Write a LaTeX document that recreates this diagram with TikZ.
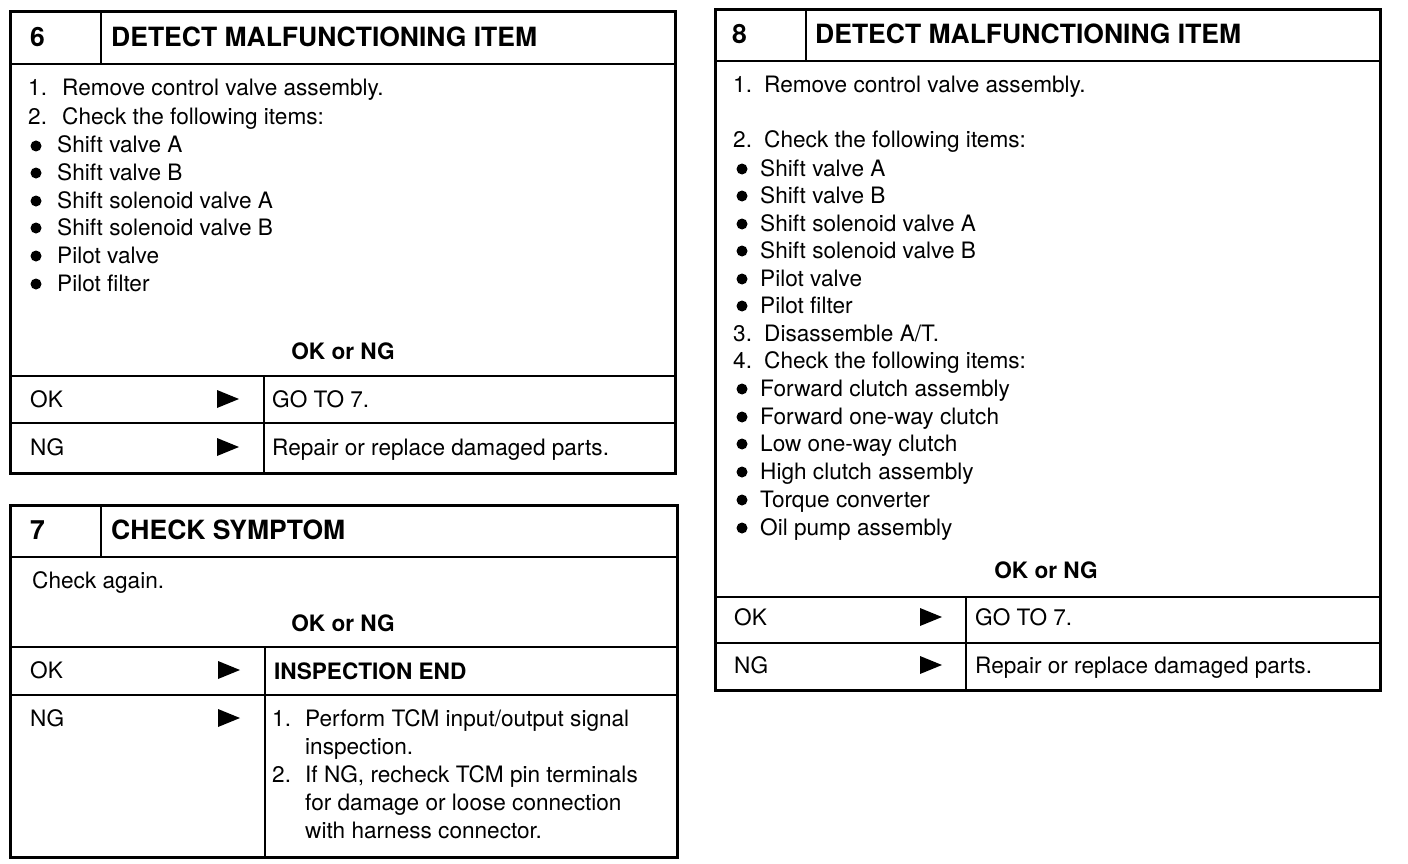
\documentclass[tikz,border=0pt]{standalone}
\usepackage{fontspec}
\setmainfont{TeX Gyre Heros}
\begin{document}
\begin{tikzpicture}[x=1pt,y=-1pt,
  frame/.style={line width=3pt},
  rule/.style={line width=1.8pt},
  body/.style={anchor=base west,inner sep=0pt,font=\fontsize{22.6}{26}\selectfont},
  bbody/.style={anchor=base west,inner sep=0pt,font=\fontsize{22.6}{26}\selectfont\bfseries},
  ttl/.style={anchor=base west,inner sep=0pt,font=\fontsize{26.5}{30}\selectfont\bfseries},
  ctr/.style={anchor=base,inner sep=0pt,font=\fontsize{22.6}{26}\selectfont\bfseries},
  bul/.style={circle,fill=black,inner sep=0pt,minimum size=11pt},
  tri/.style={fill=black}]
\useasboundingbox (0,0) rectangle (1408,864);

% ================= BOX 6 =================
\draw[rule] (10,64) -- (675,64);
\draw[rule] (101,12) -- (101,64);
\draw[rule] (10,376) -- (675,376);
\draw[rule] (10,423) -- (675,423);
\draw[rule] (264,376) -- (264,473);
\draw[frame] (10,12) rectangle (675,473);
\node[ttl] (h6n) at (30,47) {6};
\node[ttl] (h6t) at (111,47) {DETECT MALFUNCTIONING ITEM};
\node[body] (s6a) at (28,96) {1.};
\node[body] (s6b) at (62,96) {Remove control valve assembly.};
\node[body] (s6c) at (28,125) {2.};
\node[body] (s6d) at (62,125) {Check the following items:};
\foreach \yy/\tt [count=\i] in {153/Shift valve A,180/Shift valve B,208/Shift solenoid valve A,235/Shift solenoid valve B,263/Pilot valve,291/Pilot filter}{
  \node[bul] (b6\i) at (36,\yy-7) {};
  \node[body] (t6\i) at (57,\yy) {\tt};
}
\node[ctr] (q6) at (343,359) {OK or NG};
\node[body] (ok6) at (30,407) {OK};
\node[body] (ng6) at (30,455) {NG};
\fill[tri] (217,390) -- (239,399) -- (217,408) -- cycle;
\fill[tri] (217,438) -- (239,447) -- (217,456) -- cycle;
\node[body] (ok6r) at (272,407) {GO TO 7.};
\node[body] (ng6r) at (272,455) {Repair or replace damaged parts.};

% ================= BOX 7 =================
\draw[rule] (10,557) -- (677,557);
\draw[rule] (101,505) -- (101,557);
\draw[rule] (10,647) -- (677,647);
\draw[rule] (10,695) -- (677,695);
\draw[rule] (265,647) -- (265,857);
\draw[frame] (10,505) rectangle (677,857);
\node[ttl] (h7n) at (30,539) {7};
\node[ttl] (h7t) at (111,539) {CHECK SYMPTOM};
\node[body] (c7) at (32,588) {Check again.};
\node[ctr] (q7) at (343,631) {OK or NG};
\node[body] (ok7) at (30,678) {OK};
\node[body] (ng7) at (30,726) {NG};
\fill[tri] (218,661) -- (240,670) -- (218,679) -- cycle;
\fill[tri] (218,709) -- (240,718) -- (218,727) -- cycle;
\node[bbody] (ok7r) at (274,679) {INSPECTION END};
\node[body] (n7a) at (272,726) {1.};
\node[body] (n7b) at (305,726) {Perform TCM input/output signal};
\node[body] (n7c) at (305,754) {inspection.};
\node[body] (n7d) at (272,782) {2.};
\node[body] (n7e) at (305,782) {If NG, recheck TCM pin terminals};
\node[body] (n7f) at (305,810) {for damage or loose connection};
\node[body] (n7g) at (305,838) {with harness connector.};

% ================= BOX 8 =================
\draw[rule] (715,61) -- (1380,61);
\draw[rule] (806,10) -- (806,61);
\draw[rule] (715,597) -- (1380,597);
\draw[rule] (715,643) -- (1380,643);
\draw[rule] (966,597) -- (966,690);
\draw[frame] (715,10) rectangle (1380,690);
\node[ttl] (h8n) at (732,44) {8};
\node[ttl] (h8t) at (815,44) {DETECT MALFUNCTIONING ITEM};
\node[body] (s8a) at (733,93) {1.};
\node[body] (s8b) at (764,93) {Remove control valve assembly.};
\node[body] (s8c) at (733,148) {2.};
\node[body] (s8d) at (764,148) {Check the following items:};
\foreach \yy/\tt [count=\i] in {176/Shift valve A,203/Shift valve B,231/Shift solenoid valve A,258/Shift solenoid valve B,286/Pilot valve,313/Pilot filter}{
  \node[bul] (b8\i) at (742,\yy-7) {};
  \node[body] (t8\i) at (760,\yy) {\tt};
}
\node[body] (s8e) at (733,341) {3.};
\node[body] (s8f) at (764,341) {Disassemble A/T.};
\node[body] (s8g) at (733,368) {4.};
\node[body] (s8h) at (764,368) {Check the following items:};
\foreach \yy/\tt [count=\i] in {396/Forward clutch assembly,424/Forward one-way clutch,451/Low one-way clutch,479/High clutch assembly,507/Torque converter,535/Oil pump assembly}{
  \node[bul] (c8\i) at (742,\yy-7) {};
  \node[body] (u8\i) at (760,\yy) {\tt};
}
\node[ctr] (q8) at (1046,578) {OK or NG};
\node[body] (ok8) at (734,625) {OK};
\node[body] (ng8) at (734,673) {NG};
\fill[tri] (920,608) -- (942,617) -- (920,626) -- cycle;
\fill[tri] (920,656) -- (942,665) -- (920,674) -- cycle;
\node[body] (ok8r) at (975,625) {GO TO 7.};
\node[body] (ng8r) at (975,673) {Repair or replace damaged parts.};
\end{tikzpicture}
\end{document}
